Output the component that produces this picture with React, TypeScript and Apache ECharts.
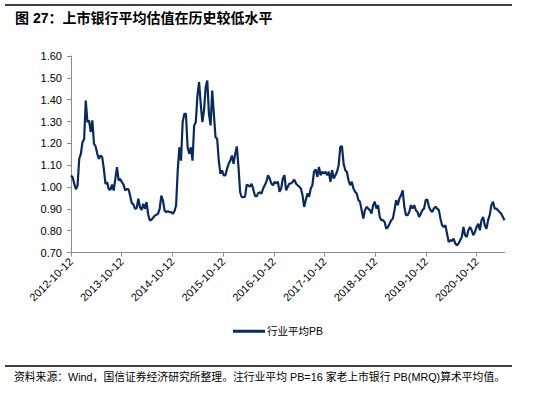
import React, { useEffect, useRef } from "react";
import * as echarts from "echarts";

const titleText = "图 27：上市银行平均估值在历史较低水平";
const sourceText = "资料来源：Wind，国信证券经济研究所整理。注行业平均 PB=16 家老上市银行 PB(MRQ)算术平均值。";
const seriesName = "行业平均PB";

const startDate = "2012-10-12";
const endDate = "2021-04-30";
const xTickLabels = [
  "2012-10-12", "2013-10-12", "2014-10-12", "2015-10-12", "2016-10-12",
  "2017-10-12", "2018-10-12", "2019-10-12", "2020-10-12",
];
const yMin = 0.7;
const yMax = 1.6;
const yStep = 0.1;

// Average PB, sampled at even intervals from startDate to endDate
const pbValues = [
  1.053, 1.045, 1.014, 0.99, 1.007, 1.129, 1.152, 1.205, 1.22, 1.396,
  1.297, 1.305, 1.251, 1.305, 1.198, 1.186, 1.152, 1.129, 1.144, 1.137,
  1.083, 1.014, 1.022, 0.99, 0.987, 1.011, 0.984, 1.037, 1.091, 1.03,
  1.037, 1.022, 1.011, 0.984, 0.99, 0.99, 0.961, 0.926, 0.92, 0.9,
  0.903, 0.946, 0.908, 0.895, 0.923, 0.9, 0.931, 0.874, 0.847, 0.85,
  0.859, 0.869, 0.873, 0.877, 0.9, 0.961, 0.938, 0.892, 0.885, 0.889,
  0.885, 0.885, 0.877, 0.889, 0.915, 1.076, 1.182, 1.121, 1.297, 1.335,
  1.335, 1.182, 1.152, 1.182, 1.121, 1.282, 1.297, 1.419, 1.48, 1.381,
  1.297, 1.35, 1.457, 1.488, 1.335, 1.282, 1.442, 1.335, 1.228, 1.221,
  1.121, 1.06, 1.076, 1.053, 1.053, 1.083, 1.106, 1.121, 1.144, 1.106,
  1.152, 1.186, 1.091, 0.976, 0.953, 0.953, 0.956, 1.011, 1.007, 1.002,
  1.014, 0.99, 0.961, 0.956, 0.972, 0.976, 0.969,
  0.993, 1.008, 1.024, 1.054, 1.039, 1.016, 1.008, 1.024, 1.016, 1.024,
  0.978, 0.993, 1.039, 1.054, 0.985, 1.001, 1.016, 1.016, 1.024, 1.034,
  1.016, 1.008, 1.001, 0.993, 0.962, 0.909, 0.94, 0.97, 0.955, 0.993,
  1.008, 1.07, 1.08, 1.047, 1.092, 1.054, 1.07, 1.062, 1.07, 1.054,
  1.07, 1.024, 1.077, 1.039, 1.054, 1.07, 1.1, 1.184, 1.187, 1.108,
  1.077, 1.07, 1.031, 1.008, 1.024, 0.993, 0.978, 0.97, 0.94, 0.932,
  0.894, 0.855, 0.894, 0.909, 0.901, 0.894, 0.878, 0.917, 0.932, 0.901,
  0.917, 0.863, 0.848, 0.848, 0.84, 0.809, 0.817, 0.832, 0.848, 0.855,
  0.894, 0.94, 0.917, 0.947, 0.962, 0.985, 0.909, 0.871, 0.871, 0.886,
  0.917, 0.901, 0.917, 0.894, 0.886, 0.863, 0.878, 0.894, 0.901, 0.94,
  0.943, 0.909, 0.894, 0.886, 0.901, 0.909, 0.901, 0.894, 0.855, 0.825,
  0.817, 0.825, 0.787, 0.748, 0.756, 0.753, 0.764, 0.741, 0.733, 0.741,
  0.756, 0.771, 0.817, 0.779, 0.771, 0.802, 0.817, 0.802, 0.779, 0.794,
  0.817, 0.832, 0.802, 0.848, 0.863, 0.825, 0.809, 0.848, 0.871, 0.917,
  0.932, 0.901, 0.901, 0.894, 0.886, 0.878, 0.863, 0.848,
];

const FONT = 'Arial, "Liberation Sans", "Noto Sans CJK SC", sans-serif';
const LINE_COLOR = "#0b2a5c";
const AXIS_COLOR = "#8c8c8c";

export default function App() {
  const ref = useRef<HTMLDivElement>(null);

  useEffect(() => {
    if (!ref.current) return;
    const chart = echarts.init(ref.current, null, { renderer: "svg" });

    const dayMs = 24 * 3600 * 1000;
    const spanYears =
      (new Date(endDate).getTime() - new Date(startDate).getTime()) / dayMs / 365.25;
    const n = pbValues.length;
    const data = pbValues.map((v, i) => [(i / (n - 1)) * spanYears, v]);
    const tickVals = xTickLabels.map((_, i) => i);

    chart.setOption({
      animation: false,
      backgroundColor: "#ffffff",
      textStyle: { fontFamily: FONT },
      grid: { left: 71, right: 46.5, top: 56, bottom: 140.5, containLabel: false },
      legend: {
        data: [{ name: seriesName, icon: "rect" }],
        left: 228,
        top: 321,
        itemWidth: 32,
        itemHeight: 3,
        itemGap: 10,
        textStyle: { fontSize: 10.5, color: "#000", fontFamily: FONT, padding: [0, 0, 0, -3] },
      },
      xAxis: {
        type: "value",
        min: 0,
        max: spanYears,
        splitLine: { show: false },
        axisLine: { show: true, lineStyle: { color: AXIS_COLOR, width: 1 } },
        axisTick: {
          show: true,
          length: 4,
          customValues: tickVals,
          lineStyle: { color: AXIS_COLOR },
        },
        axisLabel: {
          customValues: tickVals,
          rotate: 45,
          margin: 7,
          fontSize: 11,
          color: "#000",
          fontFamily: FONT,
          formatter: (v: number) => xTickLabels[Math.round(v)] ?? "",
        },
      },
      yAxis: {
        type: "value",
        min: yMin,
        max: yMax,
        interval: yStep,
        splitLine: { show: false },
        axisLine: { show: true, lineStyle: { color: AXIS_COLOR, width: 1 } },
        axisTick: { show: true, length: 4, lineStyle: { color: AXIS_COLOR } },
        axisLabel: {
          fontSize: 11,
          color: "#000",
          margin: 9,
          fontFamily: FONT,
          formatter: (v: number) => v.toFixed(2),
        },
      },
      series: [
        {
          name: seriesName,
          type: "line",
          data,
          showSymbol: false,
          symbol: "none",
          lineStyle: { color: LINE_COLOR, width: 2.2 },
          itemStyle: { color: LINE_COLOR },
        },
      ],
      graphic: [
        {
          type: "line",
          shape: { x1: 5, y1: 5, x2: 512, y2: 5 },
          style: { stroke: "#000", lineWidth: 1.5 },
        },
        {
          type: "text",
          x: 15,
          y: 18,
          style: {
            text: titleText,
            fontSize: 14,
            fontWeight: "bold",
            fill: "#000",
            fontFamily: FONT,
            textVerticalAlign: "middle",
          },
        },
        {
          type: "line",
          shape: { x1: 5, y1: 366, x2: 512, y2: 366 },
          style: { stroke: "#000", lineWidth: 1.5 },
        },
        {
          type: "text",
          x: 14,
          y: 377,
          style: {
            text: sourceText,
            fontSize: 10.8,
            fill: "#000",
            fontFamily: FONT,
            textVerticalAlign: "middle",
          },
        },
      ],
    });

    return () => chart.dispose();
  }, []);

  return (
    <div
      ref={ref}
      style={{ position: "fixed", left: 0, top: 0, width: 551, height: 393, background: "#fff" }}
    />
  );
}
